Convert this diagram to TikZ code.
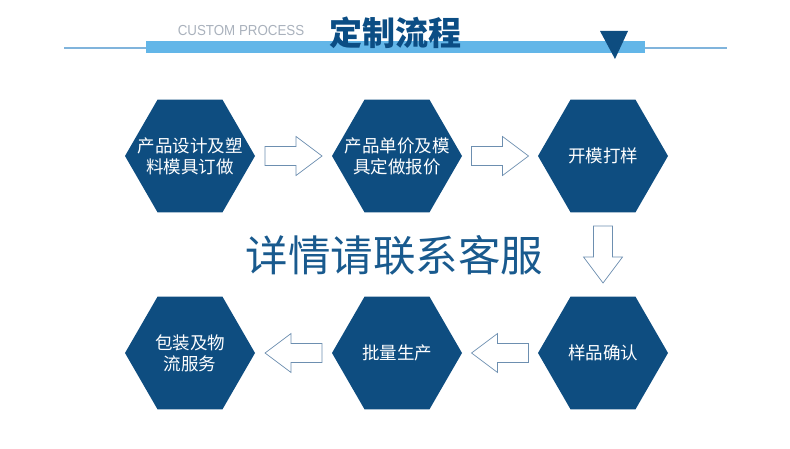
\documentclass[tikz,border=0pt]{standalone}
\usepackage{fontspec}
\setmainfont{Liberation Sans}
\newfontfamily\cjk{Noto Sans CJK SC}
\usetikzlibrary{shapes.geometric,calc}
\definecolor{hexblue}{HTML}{0E4D80}
\definecolor{titleblue}{HTML}{0B4D84}
\definecolor{bandblue}{HTML}{63B6E8}
\definecolor{lineblue}{HTML}{80B4DC}
\definecolor{midblue}{HTML}{195A8E}
\definecolor{arrowgray}{HTML}{6D8FB0}
\definecolor{subgray}{HTML}{A9B1BC}
\begin{document}
\begin{tikzpicture}[x=1pt,y=-1pt,
  hexa/.style={regular polygon, regular polygon sides=6, minimum size=130pt, inner sep=0pt, fill=hexblue, draw=none},
  hextext/.style={font=\cjk\fontsize{17.5}{21}\selectfont, text=white, align=center, inner sep=0pt},
  blockarrow/.style={draw=arrowgray, line width=0.7pt, fill=white, line join=miter},
  pics/barrow/.style={code={\draw[blockarrow] (-28.5,-9.5) -- (2.5,-9.5) -- (2.5,-19.5) -- (28.5,0) -- (2.5,19.5) -- (2.5,9.5) -- (-28.5,9.5) -- cycle;}}
]
\useasboundingbox (0,0) rectangle (790,449);
% header
\draw[lineblue, line width=1.2pt] (64,48) coordinate (hl) -- (727,48) coordinate (hr);
\fill[bandblue] (146,41) rectangle (645,53);
\fill[hexblue] (600,31) -- (628,31) -- (615,59) -- cycle;
\node[font=\fontsize{14.5}{14.5}\selectfont, text=subgray, inner sep=0pt, xscale=0.92] (sub) at (241,30.5) {CUSTOM PROCESS};
\node[font=\cjk\bfseries\fontsize{33}{33}\selectfont, text=titleblue, inner sep=0pt] (title) at (395,33) {定制流程};
% hexagons
\node[hexa] (h1) at (190,156) {};
\node[hexa] (h2) at (397,156) {};
\node[hexa] (h3) at (603,156) {};
\node[hexa] (h4) at (603,353) {};
\node[hexa] (h5) at (397,353) {};
\node[hexa] (h6) at (190,353) {};
\node[hextext] (t1) at (h1) {产品设计及塑\\料模具订做};
\node[hextext] (t2) at (h2) {产品单价及模\\具定做报价};
\node[hextext] (t3) at (h3) {开模打样};
\node[hextext] (t4) at (h4) {样品确认};
\node[hextext] (t5) at (h5) {批量生产};
\node[hextext] (t6) at (h6) {包装及物\\流服务};
% middle text
\node[font=\cjk\fontsize{42.5}{42.5}\selectfont, text=midblue, inner sep=0pt] (mid) at (394.5,255) {详情请联系客服};
% connectors
\path (h1) -- (h2) coordinate[midway] (a12);
\path (h2) -- (h3) coordinate[midway] (a23);
\path (h3) -- (h4) coordinate[midway] (a34);
\path (h4) -- (h5) coordinate[midway] (a45);
\path (h5) -- (h6) coordinate[midway] (a56);
\pic at (a12) {barrow};
\pic at (a23) {barrow};
\pic[rotate=-90] at (a34) {barrow};
\pic[rotate=180] at (a45) {barrow};
\pic[rotate=180] at (a56) {barrow};
\end{tikzpicture}
\end{document}
